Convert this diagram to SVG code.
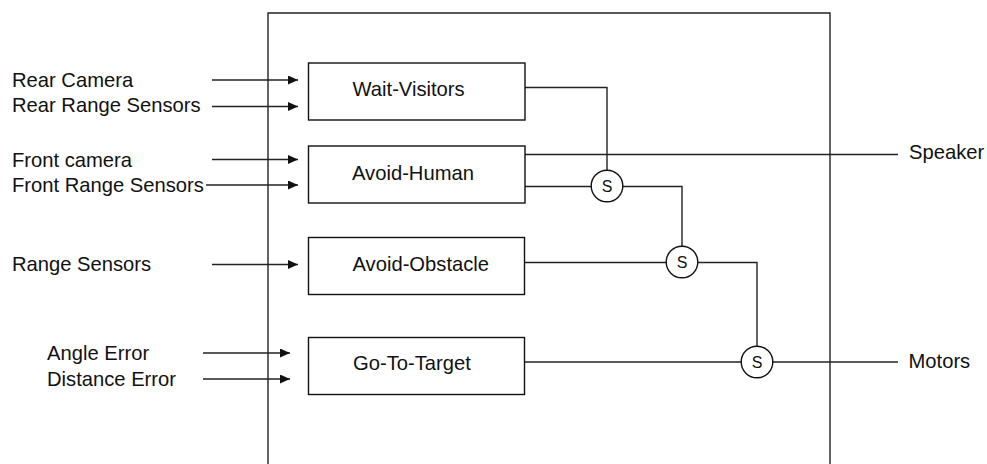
<svg xmlns="http://www.w3.org/2000/svg" width="987" height="464" viewBox="0 0 987 464">
<style>
text{font-family:"Liberation Sans",Arial,sans-serif;font-size:20.2px;fill:#111}
.lbl{text-anchor:start}
.bt{text-anchor:start}
.st{text-anchor:middle;font-size:16px}
rect,circle{fill:#fff;stroke:#111;stroke-width:1.4}
.ln{fill:none;stroke:#222;stroke-width:1.4}
</style>
<defs>
<marker id="ah" markerWidth="11" markerHeight="9" refX="10" refY="4.5" orient="auto" markerUnits="userSpaceOnUse">
<path d="M0,0 L10,4.5 L0,9 Z" fill="#111"/>
</marker>
</defs>
<g id="frame"><path class="ln" d="M268,464 V13 H830 V464"/></g>
<g id="connectors">
<path class="ln" d="M212,80 H298" marker-end="url(#ah)"/>
<path class="ln" d="M212,106.5 H298" marker-end="url(#ah)"/>
<path class="ln" d="M212,159.5 H298" marker-end="url(#ah)"/>
<path class="ln" d="M206,185 H298" marker-end="url(#ah)"/>
<path class="ln" d="M212,264.5 H298" marker-end="url(#ah)"/>
<path class="ln" d="M203,353 H290" marker-end="url(#ah)"/>
<path class="ln" d="M203,379 H290" marker-end="url(#ah)"/>
<path class="ln" d="M525,87.5 H607 V170.5"/>
<path class="ln" d="M525,154.5 H898"/>
<path class="ln" d="M525,186.5 H591.5"/>
<path class="ln" d="M622.5,186.5 H682 V246.5"/>
<path class="ln" d="M524,262.5 H666.5"/>
<path class="ln" d="M697.5,262.5 H757 V346.5"/>
<path class="ln" d="M524,362 H741.5"/>
<path class="ln" d="M772.5,362 H898"/>
</g>
<g id="inputs">
<text class="lbl" x="12" y="87">Rear Camera</text>
<text class="lbl" x="12" y="112">Rear Range Sensors</text>
<text class="lbl" x="12" y="166.5">Front camera</text>
<text class="lbl" x="12" y="192">Front Range Sensors</text>
<text class="lbl" x="12" y="271">Range Sensors</text>
<text class="lbl" x="47" y="360">Angle Error</text>
<text class="lbl" x="47" y="386">Distance Error</text>
</g>
<g id="wait-visitors"><rect x="308.5" y="63" width="216.5" height="57"/><text class="bt" x="352.5" y="96">Wait-Visitors</text></g>
<g id="avoid-human"><rect x="308.5" y="146" width="216.5" height="57"/><text class="bt" x="352" y="179.5">Avoid-Human</text></g>
<g id="avoid-obstacle"><rect x="308.5" y="237.5" width="216" height="57"/><text class="bt" x="352.5" y="270.5">Avoid-Obstacle</text></g>
<g id="go-to-target"><rect x="308.5" y="337.5" width="216" height="57"/><text class="bt" x="353" y="370">Go-To-Target</text></g>
<g id="s1"><circle cx="607" cy="186" r="15.8"/><text class="st" x="607" y="191.5">S</text></g>
<g id="s2"><circle cx="682" cy="262" r="15.8"/><text class="st" x="682" y="267.5">S</text></g>
<g id="s3"><circle cx="757" cy="362" r="15.8"/><text class="st" x="757" y="367.5">S</text></g>
<g id="outputs">
<text class="lbl" x="909" y="158.5">Speaker</text>
<text class="lbl" x="908.5" y="368">Motors</text>
</g>
</svg>
